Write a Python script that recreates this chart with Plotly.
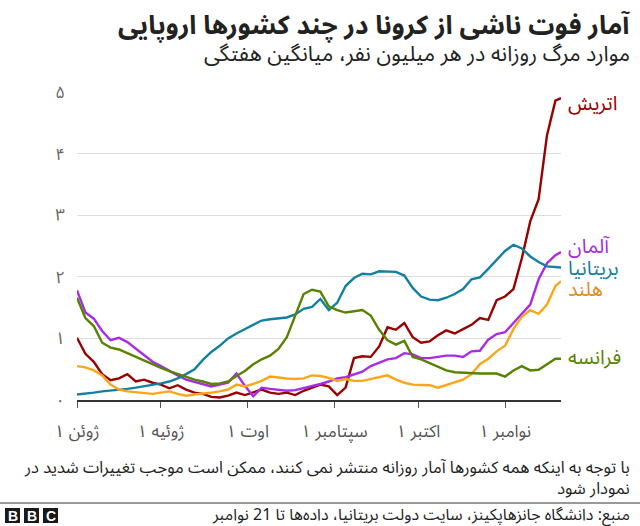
import pandas as pd
import plotly.graph_objects as go

# ---------------- data ----------------
dates = list(pd.date_range("2020-06-01", periods=58, freq="3D").strftime("%Y-%m-%d")) + ["2020-11-21"]

austria = [1.01, 0.75, 0.62, 0.42, 0.32, 0.35, 0.42, 0.30, 0.33, 0.28,
           0.25, 0.19, 0.24, 0.17, 0.12, 0.10, 0.05, 0.04, 0.07, 0.12,
           0.08, 0.13, 0.17, 0.12, 0.10, 0.12, 0.08, 0.15, 0.20, 0.25,
           0.22, 0.08, 0.20, 0.68, 0.71, 0.70, 0.87, 1.18, 1.14, 1.25,
           1.02, 0.93, 0.95, 1.05, 1.13, 1.08, 1.15, 1.22, 1.33, 1.30,
           1.62, 1.68, 1.80, 2.30, 2.90, 3.26, 4.30, 4.86, 4.90]
germany = [1.78, 1.42, 1.32, 1.12, 0.97, 1.01, 0.94, 0.83, 0.72, 0.62,
           0.55, 0.47, 0.40, 0.33, 0.29, 0.25, 0.22, 0.25, 0.28, 0.43,
           0.23, 0.06, 0.20, 0.18, 0.16, 0.15, 0.16, 0.19, 0.22, 0.26,
           0.30, 0.35, 0.37, 0.42, 0.46, 0.55, 0.60, 0.66, 0.68, 0.76,
           0.74, 0.68, 0.68, 0.70, 0.72, 0.72, 0.70, 0.79, 0.80, 0.98,
           1.07, 1.10, 1.25, 1.40, 1.55, 1.96, 2.22, 2.35, 2.40]
uk = [0.09, 0.10, 0.12, 0.14, 0.15, 0.17, 0.18, 0.20, 0.22, 0.24,
      0.27, 0.30, 0.35, 0.42, 0.50, 0.65, 0.78, 0.88, 1.00, 1.08,
      1.15, 1.21, 1.29, 1.31, 1.32, 1.34, 1.39, 1.48, 1.51, 1.64,
      1.46, 1.58, 1.85, 1.98, 2.05, 2.04, 2.09, 2.09, 2.08, 2.02,
      1.82, 1.68, 1.63, 1.62, 1.66, 1.72, 1.80, 1.96, 1.99, 2.13,
      2.28, 2.42, 2.52, 2.46, 2.33, 2.24, 2.17, 2.16, 2.15]
netherlands = [0.55, 0.53, 0.48, 0.40, 0.25, 0.17, 0.14, 0.13, 0.12, 0.10,
               0.12, 0.14, 0.10, 0.07, 0.09, 0.10, 0.12, 0.14, 0.17, 0.25,
               0.22, 0.26, 0.31, 0.38, 0.36, 0.35, 0.34, 0.35, 0.40, 0.39,
               0.36, 0.31, 0.34, 0.31, 0.31, 0.34, 0.36, 0.40, 0.33, 0.28,
               0.25, 0.25, 0.24, 0.20, 0.24, 0.28, 0.33, 0.42, 0.58, 0.67,
               0.79, 0.88, 1.15, 1.35, 1.46, 1.40, 1.55, 1.85, 1.93]
france = [1.66, 1.33, 1.20, 0.93, 0.85, 0.82, 0.76, 0.70, 0.63, 0.57,
          0.52, 0.47, 0.42, 0.38, 0.33, 0.30, 0.26, 0.27, 0.30, 0.39,
          0.47, 0.58, 0.66, 0.72, 0.83, 1.02, 1.38, 1.72, 1.79, 1.76,
          1.52, 1.46, 1.42, 1.44, 1.46, 1.37, 1.14, 0.97, 0.90, 0.96,
          0.70, 0.66, 0.60, 0.55, 0.48, 0.45, 0.44, 0.43, 0.43, 0.43,
          0.43, 0.38, 0.48, 0.55, 0.48, 0.49, 0.58, 0.67, 0.67]

series_names = ["اتریش", "آلمان", "بریتانیا", "هلند", "فرانسه"]
series_values = [austria, germany, uk, netherlands, france]
series_colors = ["#990000", "#a82be6", "#1380a1", "#faa61a", "#588300"]
label_colors = ["#990000", "#a82be6", "#1380a1", "#e08e1e", "#588300"]
label_y = [4.81, 2.48, 2.12, 1.78, 0.69]

xtick_vals = ["2020-06-01", "2020-07-01", "2020-08-01", "2020-09-01", "2020-10-01", "2020-11-01"]
xtick_text = ["۱ ژوئن", "۱ ژوئیه", "۱ اوت", "۱ سپتامبر", "۱ اکتبر", "۱ نوامبر"]
ytick_vals = [0, 1, 2, 3, 4, 5]
ytick_text = ["٠", "۱", "۲", "۳", "۴", "۵"]

title = "آمار فوت ناشی از کرونا در چند کشورها اروپایی"
subtitle = "موارد مرگ روزانه در هر میلیون نفر، میانگین هفتگی"
note = "با توجه به اینکه همه کشورها آمار روزانه منتشر نمی کنند، ممکن است موجب تغییرات شدید در<br>نمودار شود"
source = "منبع: دانشگاه جانزهاپکینز، سایت دولت بریتانیا، داده‌ها تا 21 نوامبر"

# ---------------- layout geometry ----------------
W, H = 640, 526
L, R, T, B = 77, 79, 92, 126
PW, PH = W - L - R, H - T - B
FONT = "Noto Sans Arabic, DejaVu Sans, sans-serif"


def px(x):
    return (x - L) / PW


def py(y):
    return (H - B - y) / PH


fig = go.Figure()
for name, vals, col in zip(series_names, series_values, series_colors):
    fig.add_trace(go.Scatter(x=dates, y=vals, mode="lines", name=name,
                             line=dict(color=col, width=2.4), hoverinfo="skip"))

annotations = []
for name, col, ly in zip(series_names, label_colors, label_y):
    annotations.append(dict(x=dates[-1], y=ly, xref="x", yref="y", text=name,
                            showarrow=False, xanchor="left", yanchor="middle",
                            xshift=5, font=dict(size=20, color=col, family=FONT)))

annotations += [
    dict(x=px(632), y=py(25), xref="paper", yref="paper", text="<b>" + title + "</b>",
         showarrow=False, xanchor="right", yanchor="middle",
         font=dict(size=26, color="#222222", family=FONT)),
    dict(x=px(632), y=py(54), xref="paper", yref="paper", text=subtitle,
         showarrow=False, xanchor="right", yanchor="middle",
         font=dict(size=21.5, color="#222222", family=FONT)),
    dict(x=px(632), y=py(478), xref="paper", yref="paper", text=note,
         showarrow=False, xanchor="right", yanchor="middle", align="right",
         font=dict(size=16.5, color="#222222", family=FONT)),
    dict(x=px(632), y=py(515), xref="paper", yref="paper", text=source,
         showarrow=False, xanchor="right", yanchor="middle",
         font=dict(size=16, color="#222222", family=FONT)),
]

shapes = [dict(type="line", xref="paper", yref="paper", x0=px(0), x1=px(640),
               y0=py(503), y1=py(503), line=dict(color="#999999", width=2))]
for i, letter in enumerate("BBC"):
    x0 = 5 + i * 19
    shapes.append(dict(type="rect", xref="paper", yref="paper", x0=px(x0), x1=px(x0 + 15),
                       y0=py(523), y1=py(508), fillcolor="#1a1a1a", line=dict(width=0)))
    annotations.append(dict(x=px(x0 + 7.5), y=py(515.5), xref="paper", yref="paper",
                            text="<b>" + letter + "</b>", showarrow=False,
                            xanchor="center", yanchor="middle",
                            font=dict(size=14, color="#ffffff", family="Liberation Sans, Arial")))

fig.update_layout(
    width=W, height=H,
    margin=dict(l=L, r=R, t=T, b=B),
    paper_bgcolor="#ffffff", plot_bgcolor="#ffffff",
    showlegend=False,
    font=dict(family=FONT),
    annotations=annotations,
    shapes=shapes,
    xaxis=dict(type="date", range=["2020-06-01", "2020-11-21"],
               tickvals=xtick_vals, ticktext=xtick_text,
               showgrid=False, zeroline=False,
               showline=True, linecolor="#333333", linewidth=2,
               ticks="outside", ticklen=6, tickcolor="#555555", tickwidth=1,
               ticklabelstandoff=9,
               tickfont=dict(size=17, color="#555555", family=FONT)),
    yaxis=dict(range=[0, 5], tickvals=ytick_vals, ticktext=ytick_text,
               showgrid=True, gridcolor="#dddddd", gridwidth=1,
               zeroline=False, showline=False, ticks="",
               ticklabelstandoff=11,
               tickfont=dict(size=17, color="#666666", family=FONT)),
)

fig.write_html("out.html")
